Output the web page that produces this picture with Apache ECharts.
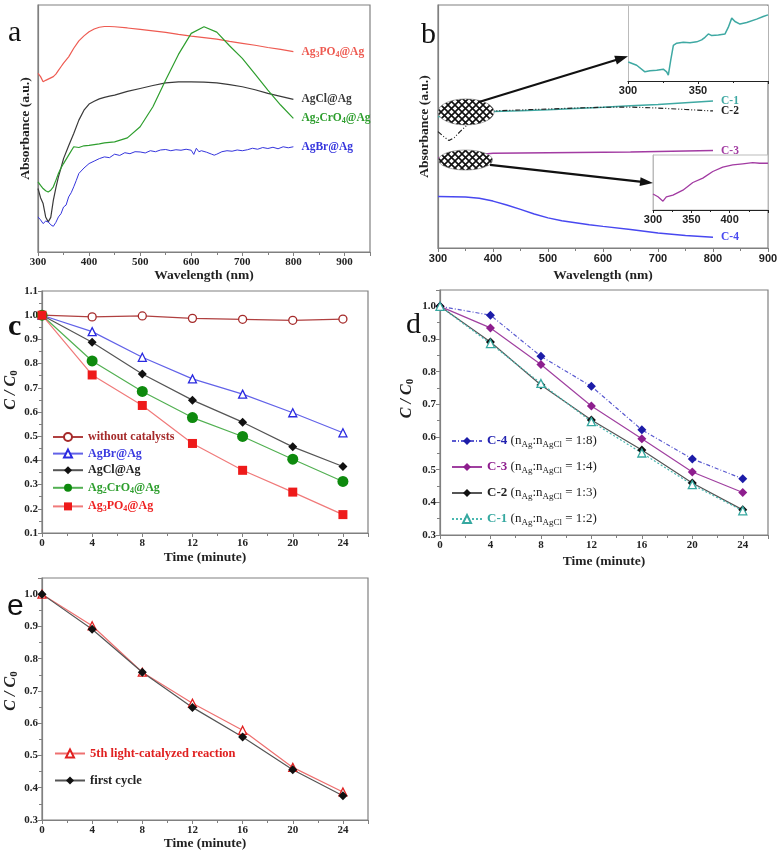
<!DOCTYPE html>
<html><head><meta charset="utf-8">
<script src="https://cdn.jsdelivr.net/npm/echarts@6/dist/echarts.min.js"></script>
<style>html,body{margin:0;padding:0;background:#fff}#c{width:781px;height:854px}</style>
</head><body><div id="c"></div>
<script>
// ---------- DATA ----------
// Panel a (absorbance, arbitrary units 0-100)
const wlA = [300,305,310,315,320,325,330,335,340,345,350,360,370,380,390,400,410,420,430,440,450,475,500,525,550,575,600,625,650,675,700,725,750,775,800];
const aAg3PO4 = [72.3,71,68.9,69.5,70,70.5,71,72,73.5,75,76.5,79,82.5,85.5,87.5,89.2,90.3,91,91.3,91.3,91.2,90.7,90.1,89.5,88.9,88.1,87.4,86.8,86.2,85.3,84.5,83.7,82.8,82,81.1];
const aAg2CrO4 = [28.4,27,25.7,24.8,24.3,25,26.4,29,31.8,34,35.8,39.2,42.6,42.3,43,43.2,43.5,43.8,44.2,44.4,44.6,46.2,50.7,58.8,69.6,80,88.5,91.2,89,83.5,78.4,72,65.5,59.5,54.1];
const aAgCl = [25.7,22,19.6,14.2,12.2,14,20.9,26,30.4,34,37.8,43,48,53.4,57.4,59.9,61,62,62.6,63.1,63.5,65,66.2,67.4,68.5,68.9,68.9,68.8,68.5,67.8,66.9,65.7,64.2,63,61.8];
const wlBr = [300,305,310,315,320,325,330,335,340,345,350,355,360,365,370,375,380,390,400,410,420,430,440,450,460,470,480,490,500,510,520,530,540,550,560,570,580,590,600,605,610,615,620,630,640,645,650,660,670,680,690,700,710,720,730,740,750,760,770,780,790,800];
const aAgBr = [14.2,13,11.5,12.5,12.2,11,10.4,12,14.2,15.5,18.2,19,22.3,24,26.4,29,31.8,34,35.8,36.8,37.8,38.5,38.2,39.6,39.1,40.2,39.8,40.6,40.5,40.1,41,40.6,41.3,41.5,41,41.4,41.2,41.6,41.2,39.5,42,40.6,41,40.4,39.6,39.2,39.6,40.6,41,40.8,41.3,41,41.4,42,41.6,42.3,41.9,42.4,41.8,42.6,42.2,42.6];

// Panel b
const wlB = [300,310,320,330,340,350,360,370,380,390,400,450,500,550,600,650,700,750,800];
const bC1 = [54,54.3,54.6,54.9,55.2,55.5,55.7,55.9,56,56.1,56.2,56.5,56.9,57.4,57.9,58.5,59.1,59.8,60.5];
const bC2 = [47.9,45.9,44.2,45.5,47.9,50,52.3,54.2,55.5,56,56.4,56.8,57.2,57.6,57.9,58,57.6,57,56.4];
const bC3 = [37,37.2,37.4,37.6,37.8,38,38.2,38.4,38.6,38.8,39,39.1,39.2,39.3,39.4,39.5,39.7,39.9,40.1];
const wlB4 = [300,325,350,375,400,425,450,475,500,525,550,575,600,650,700,750,800];
const bC4 = [21.2,21.1,21,20.5,19.3,17.7,15.9,14,12.4,11.2,10.4,9.6,8.9,7.6,6.2,5.1,4.4];
// Inset 1 (C-1, 300-400 nm)
const wlIn1 = [300.2,306.2,312.1,315.7,320.5,325.2,327.6,328.8,330.5,332.4,334.8,339.5,344.3,349.1,352.6,355,357.4,359.8,364.5,369.3,371.6,374.1,376.4,380,384.8,391.9,396.6,400];
const in1C1 = [19.3,16,9.3,10.3,11,12,9.3,6,21,36,38.3,39.3,38.7,39.7,41.7,44.3,47.7,46,46.7,47.7,54.3,63.7,60.3,57.7,59.3,62.7,65.3,67];
// Inset 2 (C-3, 300-450 nm)
const wlIn2 = [300,306.5,313,317.4,326,339,352,365,378,391,404,417,430,439,450];
const in2C3 = [29,24,16,24,27,36,50,58,70,78,82,84,86,85,85];

// Panels c, d, e (C/C0 vs time)
const timeMin = [0,4,8,12,16,20,24];
const cWithout = [1.0,0.993,0.997,0.987,0.983,0.979,0.984];
const cAgBr = [1.0,0.932,0.826,0.737,0.674,0.597,0.514];
const cAgCl = [1.0,0.888,0.757,0.649,0.558,0.456,0.375];
const cAg2CrO4 = [1.0,0.811,0.685,0.577,0.499,0.405,0.313];
const cAg3PO4 = [1.0,0.753,0.627,0.47,0.359,0.269,0.176];
const dC4 = [1.0,0.973,0.847,0.755,0.622,0.533,0.472];
const dC3 = [1.0,0.934,0.822,0.695,0.595,0.493,0.430];
const dC2 = [1.0,0.891,0.759,0.652,0.560,0.459,0.377];
const dC1 = [1.0,0.886,0.764,0.647,0.551,0.454,0.374];
const eFifth = [1.0,0.902,0.758,0.662,0.578,0.463,0.387];
const eFirst = [1.0,0.891,0.758,0.649,0.557,0.456,0.375];

const wlTicks = [300,400,500,600,700,800,900];
const timeTicks = [0,4,8,12,16,20,24];

// ---------- HELPERS ----------
const F = '"Liberation Serif","Times New Roman",serif';
const FS = '"Liberation Sans",Arial,sans-serif';
const pairs = (xs, ys) => xs.map((x, i) => [x, ys[i]]);
const AX = '#808080';
function rs(color, size, weight, style) {
  return {color, fontSize:size, fontWeight:weight||'bold', fontFamily:F, fontStyle:style||'normal', lineHeight:size+3};
}
function sub(color, size, weight) {
  return {color, fontSize:Math.round(size*0.68), fontWeight:weight||'bold', fontFamily:F, padding:[Math.round(size*0.5),0,0,0], lineHeight:size+3};
}
function endLab(text, color) {
  return {show:true, distance:8, formatter:()=>text, rich:{n:rs(color,11.5), s:sub(color,11.5)}};
}
const noEmph = {disabled:true};

function wlX(grid, max, sans, gap) {
  return {gridIndex:grid, type:'value', min:300, max:max, interval:100,
    axisLine:{lineStyle:{color:AX,width:1.2}}, axisTick:{length:4,lineStyle:{color:AX}},
    minorTick:{show:true,splitNumber:2,length:3,lineStyle:{color:AX}}, splitLine:{show:false},
    axisLabel:{fontFamily:sans?FS:F, fontWeight:'bold', fontSize:11, color:'#222', margin:5,
      formatter:v=>wlTicks.indexOf(v)>=0?String(v):''},
    name:'Wavelength (nm)', nameLocation:'middle', nameGap:gap,
    nameTextStyle:{fontFamily:F,fontWeight:'bold',fontSize:13.5,color:'#222'}};
}
function absY(grid, gap) {
  return {gridIndex:grid, type:'value', min:0, max:100, axisLine:{show:true,lineStyle:{color:AX,width:1.2}},
    axisTick:{show:false}, axisLabel:{show:false}, splitLine:{show:false},
    name:'Absorbance (a.u.)', nameLocation:'middle', nameGap:gap,
    nameTextStyle:{fontFamily:F,fontWeight:'bold',fontSize:13.5,color:'#222'}};
}
function tX(grid, gap) {
  return {gridIndex:grid, type:'value', min:0, max:26, interval:4,
    axisLine:{lineStyle:{color:AX,width:1.2}}, axisTick:{length:4,lineStyle:{color:AX}},
    minorTick:{show:true,splitNumber:2,length:3,lineStyle:{color:AX}}, splitLine:{show:false},
    axisLabel:{fontFamily:F, fontWeight:'bold', fontSize:11, color:'#222', margin:5,
      formatter:v=>timeTicks.indexOf(v)>=0?String(v):''},
    name:'Time (minute)', nameLocation:'middle', nameGap:gap,
    nameTextStyle:{fontFamily:F,fontWeight:'bold',fontSize:13.5,color:'#222'}};
}
function cY(grid, min, max, gap, pad) {
  return {gridIndex:grid, type:'value', min:min, max:max, interval:0.1,
    axisLine:{show:true,lineStyle:{color:AX,width:1.2}}, axisTick:{show:true,length:4,lineStyle:{color:AX}},
    minorTick:{show:true,splitNumber:2,length:3,lineStyle:{color:AX}}, splitLine:{show:false},
    axisLabel:{fontFamily:F, fontWeight:'bold', fontSize:11, color:'#222', margin:4,
      formatter:v=>(Math.abs(v*10-Math.round(v*10))<1e-6)?v.toFixed(1):''},
    name:'{i|C / C}{s|0}', nameLocation:'middle', nameGap:gap,
    nameTextStyle:{padding:[0,0,0,pad], rich:{i:rs('#222',16,'bold','italic'), s:sub('#222',16)}}};
}
function line(name, xi, xs, ys, color, width, extra) {
  return Object.assign({name, type:'line', xAxisIndex:xi, yAxisIndex:xi, data:pairs(xs,ys),
    showSymbol:false, symbol:'none', lineStyle:{color, width:width||1.2}, itemStyle:{color},
    emphasis:noEmph, animation:false, z:3}, extra||{});
}
function pts(name, xi, ys, color, lineColor, symbol, size, open, lineType) {
  return {name, type:'line', xAxisIndex:xi, yAxisIndex:xi, data:pairs(timeMin,ys),
    symbol, symbolSize:size, showSymbol:true,
    itemStyle: open ? {color:'#fff', borderColor:color, borderWidth:1.3} : {color, borderWidth:0},
    lineStyle:{color:lineColor, width:1.2, type:lineType||'solid'},
    emphasis:noEmph, animation:false, z:4};
}

const gridBox = {show:true, borderColor:AX, borderWidth:1.2, backgroundColor:'transparent'};
const grids = [
  Object.assign({left:38, top:5, width:332, height:247}, gridBox),   // a
  Object.assign({left:438, top:5, width:330, height:243}, gridBox),  // b
  Object.assign({left:39, top:291, width:329, height:242}, gridBox), // c
  Object.assign({left:440, top:290, width:328, height:245}, gridBox),// d
  Object.assign({left:41, top:578, width:327, height:242}, gridBox), // e
  {left:628, top:6, width:140, height:75, show:true, borderWidth:0, backgroundColor:'#fff', z:5}, // inset 1
  {left:653, top:155, width:115, height:55, show:true, borderColor:'#bbb', borderWidth:1, backgroundColor:'#fff', z:5} // inset 2
];

function insetX(grid, max) {
  return {gridIndex:grid, type:'value', min:300, max:max, interval:50, z:6,
    axisLine:{lineStyle:{color:'#222',width:1.2}}, axisTick:{length:3,lineStyle:{color:'#222'}},
    minorTick:{show:true,splitNumber:2,length:2,lineStyle:{color:'#222'}}, splitLine:{show:false},
    axisLabel:{fontFamily:FS, fontWeight:'bold', fontSize:11, color:'#222', margin:4,
      formatter:v=>(v<max?String(v):'')}};
}
function insetY(grid, max) {
  return {gridIndex:grid, type:'value', min:0, max:max, z:6, axisLine:{show:true,lineStyle:{color:'#bbb',width:1}},
    axisTick:{show:false}, axisLabel:{show:false}, splitLine:{show:false}};
}

const xAxes = [wlX(0,950,false,16), wlX(1,900,true,21), tX(2,18), tX(3,20), tX(4,14), insetX(5,400), insetX(6,450)];
const yAxes = [absY(0,5), absY(1,6), cY(2,0.1,1.1,22,44), cY(3,0.3,1.05,24,28), cY(4,0.3,1.05,22,16), insetY(5,76), insetY(6,100)];

const RED_A='#EE5B52', BLK_A='#3a3a3a', GRN_A='#2E9E2E', BLU_A='#3535DD';
const TEAL='#3FA9A3', PURP='#A23BA2', BLU_B='#4848F0';

const series = [
  line('a1',0,wlA,aAg3PO4,RED_A,1.2,{endLabel:endLab('{n|Ag}{s|3}{n|PO}{s|4}{n|@Ag}',RED_A)}),
  line('a2',0,wlA,aAgCl,BLK_A,1.2,{endLabel:endLab('{n|AgCl@Ag}',BLK_A)}),
  line('a3',0,wlA,aAg2CrO4,GRN_A,1.2,{endLabel:endLab('{n|Ag}{s|2}{n|CrO}{s|4}{n|@Ag}',GRN_A)}),
  line('a4',0,wlBr,aAgBr,BLU_A,1,{endLabel:endLab('{n|AgBr@Ag}',BLU_A)}),
  line('b1',1,wlB,bC1,TEAL,1.5,{endLabel:endLab('{n|C-1}',TEAL)}),
  line('b2',1,wlB,bC2,'#222',1.2,{lineStyle:{color:'#222',width:1.2,type:[5,2,1,2,1,2]},endLabel:endLab('{n|C-2}','#222')}),
  line('b3',1,wlB,bC3,PURP,1.5,{endLabel:endLab('{n|C-3}',PURP)}),
  line('b4',1,wlB4,bC4,BLU_B,1.5,{endLabel:endLab('{n|C-4}',BLU_B)}),
  line('i1',5,wlIn1,in1C1,TEAL,1.5,{z:7}),
  line('i2',6,wlIn2,in2C3,PURP,1.3,{z:7}),
  pts('without catalysts',2,cWithout,'#A52A2A','#B04040','circle',8,true),
  pts('AgBr@Ag',2,cAgBr,'#2A2AE0','#6262E8','triangle',8,true),
  pts('AgCl@Ag',2,cAgCl,'#111','#555','diamond',9,false),
  pts('Ag2CrO4@Ag',2,cAg2CrO4,'#0E8A0E','#52B052','circle',11,false),
  pts('Ag3PO4@Ag',2,cAg3PO4,'#EE1A1A','#F07A7A','rect',9,false),
  pts('C-4',3,dC4,'#1C1CA8','#5a5ad0','diamond',9,false,[4,2,1,2]),
  pts('C-3',3,dC3,'#8E1E8E','#A040A0','diamond',9,false),
  pts('C-2',3,dC2,'#111','#555','diamond',9,false),
  pts('C-1',3,dC1,'#36A8A0','#4AB8B0','triangle',8,true,[2,2]),
  pts('5th light-catalyzed reaction',4,eFifth,'#E02020','#EE7070','triangle',8,true),
  pts('first cycle',4,eFirst,'#111','#555','diamond',9,false)
];

const legendBase = {orient:'vertical', itemWidth:30, itemHeight:10, selectedMode:false, padding:0, inactiveColor:'#ccc'};
const legC = Object.assign({}, legendBase, {left:52, top:431, itemGap:4.6,
  data:['without catalysts','AgBr@Ag','AgCl@Ag','Ag2CrO4@Ag','Ag3PO4@Ag'],
  formatter:n=>({'without catalysts':'{wc|without catalysts}','AgBr@Ag':'{br|AgBr@Ag}','AgCl@Ag':'{cl|AgCl@Ag}',
    'Ag2CrO4@Ag':'{cr|Ag}{crs|2}{cr|CrO}{crs|4}{cr|@Ag}','Ag3PO4@Ag':'{po|Ag}{pos|3}{po|PO}{pos|4}{po|@Ag}'})[n],
  textStyle:{rich:{wc:rs('#A52A2A',12), br:rs('#3A3AE0',12), cl:rs('#222',12), cr:rs('#2E9E2E',12), crs:sub('#2E9E2E',12),
    po:rs('#EE2222',12), pos:sub('#EE2222',12)}}});
const dTxt = r => ' {t|(n}{ts|Ag}{t|:n}{ts|AgCl}{t| = '+r+')}';
const legD = Object.assign({}, legendBase, {left:451, top:433, itemGap:10,
  data:['C-4','C-3','C-2','C-1'],
  formatter:n=>({'C-4':'{c4|C-4}'+dTxt('1:8'),'C-3':'{c3|C-3}'+dTxt('1:4'),'C-2':'{c2|C-2}'+dTxt('1:3'),'C-1':'{c1|C-1}'+dTxt('1:2')})[n],
  textStyle:{rich:{c4:rs('#2222B0',13), c3:rs('#8E1E8E',13), c2:rs('#222',13), c1:rs('#36A8A0',13),
    t:rs('#222',13,'normal'), ts:sub('#222',13,'normal')}}});
const legE = Object.assign({}, legendBase, {left:54, top:747, itemGap:14,
  data:['5th light-catalyzed reaction','first cycle'],
  formatter:n=>n==='first cycle'?'{k|first cycle}':'{r|5th light-catalyzed reaction}',
  textStyle:{rich:{k:rs('#222',12.5), r:rs('#E02020',12.5)}}});

const chart = echarts.init(document.getElementById('c'), null, {renderer:'canvas'});
chart.setOption({animation:false, backgroundColor:'#fff', grid:grids, xAxis:xAxes, yAxis:yAxes,
  legend:[legC,legD,legE], series:series});

// ---------- ANNOTATIONS ----------
function hatch(){ const s=7, c=document.createElement('canvas'); c.width=c.height=s; const g=c.getContext('2d');
  g.fillStyle='#fff'; g.fillRect(0,0,s,s); g.strokeStyle='#111'; g.lineWidth=1.6; g.beginPath();
  g.moveTo(0,0); g.lineTo(s,s); g.moveTo(s,0); g.lineTo(0,s); g.stroke(); return c; }
const pat = {image:hatch(), repeat:'repeat'};
function px(g, v){ return chart.convertToPixel({gridIndex:g}, v); }
function arrow(p1, p2) {
  const dx=p2[0]-p1[0], dy=p2[1]-p1[1], L=Math.hypot(dx,dy), ux=dx/L, uy=dy/L, hl=13, hw=4.5;
  const bx=p2[0]-ux*hl, by=p2[1]-uy*hl;
  return [
    {type:'line', shape:{x1:p1[0],y1:p1[1],x2:bx+ux*2,y2:by+uy*2}, style:{stroke:'#111',lineWidth:2.2}, z:120},
    {type:'polygon', shape:{points:[[p2[0],p2[1]],[bx-uy*hw,by+ux*hw],[bx+uy*hw,by-ux*hw]]}, style:{fill:'#111'}, z:121}
  ];
}
const e1 = px(1,[351,56]), e2 = px(1,[350,36.2]);
const letters = [['a',8,33,'normal',F],['b',421,35,'normal',F],['c',8,327,'bold',F],['d',406,325,'normal',F],['e',7,607,'normal',FS]];
const graphic = [
  {type:'ellipse', shape:{cx:e1[0],cy:e1[1],rx:28,ry:13}, style:{fill:pat, stroke:'#777', lineWidth:0.6}, z:110},
  {type:'ellipse', shape:{cx:e2[0],cy:e2[1],rx:27,ry:10}, style:{fill:pat, stroke:'#777', lineWidth:0.6}, z:110},
  ...arrow(px(1,[373,60]), px(5,[300,25])),
  ...arrow(px(1,[394.5,34.2]), px(6,[300,49])),
  ...letters.map(l=>({type:'text', x:l[1], y:l[2], style:{text:l[0], font:l[3]+' 30px '+l[4], fill:'#111', verticalAlign:'middle'}, z:130}))
];
chart.setOption({graphic:graphic});
</script></body></html>
